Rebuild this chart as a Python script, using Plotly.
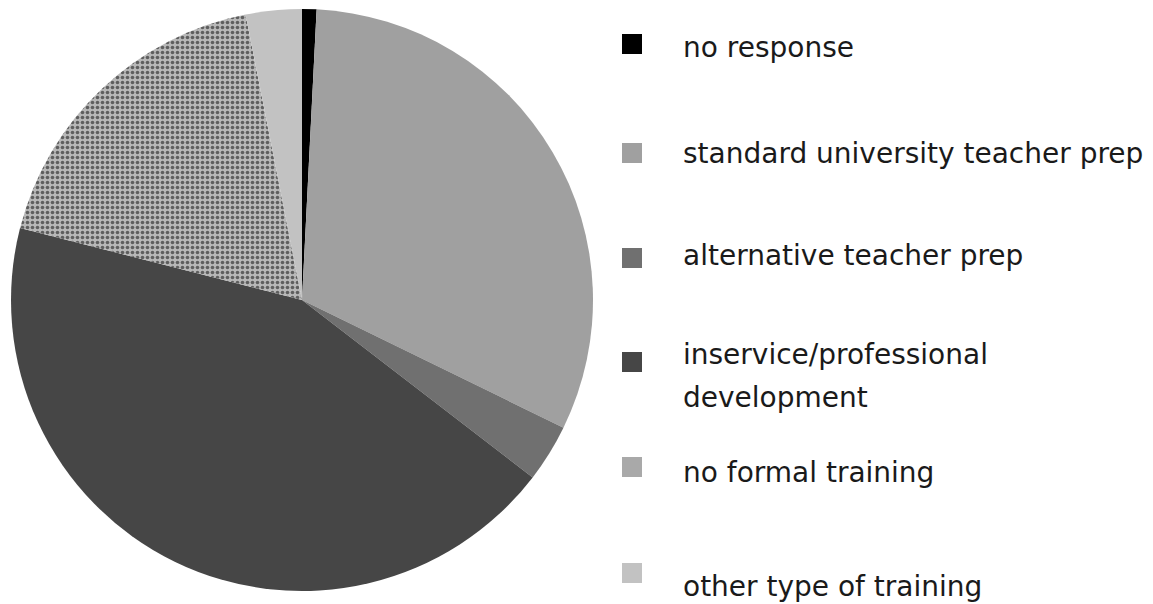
import plotly.graph_objects as go

labels = ["no response", "standard university teacher prep", "alternative teacher prep",
          "inservice/professional development", "no formal training", "other type of training"]
values = [0.8, 31.4, 3.2, 43.5, 17.9, 3.1]
colors = ["#000000", "#a0a0a0", "#707070", "#464646", "#a9a9a9", "#c2c2c2"]
legend_lines = [["no response"], ["standard university teacher prep"], ["alternative teacher prep"],
                ["inservice/professional", "development"], ["no formal training"],
                ["other type of training"]]

W, H = 1153, 604
# legend layout (pixels from top)
square_centers = [44, 153, 258, 362, 467, 573]
text_centers = [[48], [153], [255], [355, 398], [472], [586]]

fig = go.Figure()
fig.add_trace(go.Pie(
    labels=labels, values=values, sort=False, direction="clockwise", rotation=0,
    marker=dict(colors=colors, line=dict(width=0),
                pattern=dict(shape=["", "", "", "", ".", ""], fgcolor="#5e5e5e",
                             bgcolor="#b8b8b8", size=5, solidity=0.4)),
    textinfo="none", hoverinfo="label+percent", showlegend=False,
    domain=dict(x=[11 / W, 593 / W], y=[(H - 591) / H, (H - 9) / H]),
))

shapes = []
annotations = []
for i, lines in enumerate(legend_lines):
    cy = square_centers[i]
    shapes.append(dict(type="rect", xref="paper", yref="paper",
                       x0=622 / W, x1=642 / W, y0=(H - cy - 10) / H, y1=(H - cy + 10) / H,
                       fillcolor=colors[i], line=dict(width=0)))
    for line, ty in zip(lines, text_centers[i]):
        annotations.append(dict(text=line, xref="paper", yref="paper", x=681 / W, y=(H - ty) / H,
                                xanchor="left", yanchor="middle", showarrow=False,
                                font=dict(family="DejaVu Sans", size=28, color="#1a1a1a")))

fig.update_layout(width=W, height=H, margin=dict(l=0, r=0, t=0, b=0),
                  paper_bgcolor="white", plot_bgcolor="white",
                  shapes=shapes, annotations=annotations, showlegend=False)
fig.write_html("out.html")
